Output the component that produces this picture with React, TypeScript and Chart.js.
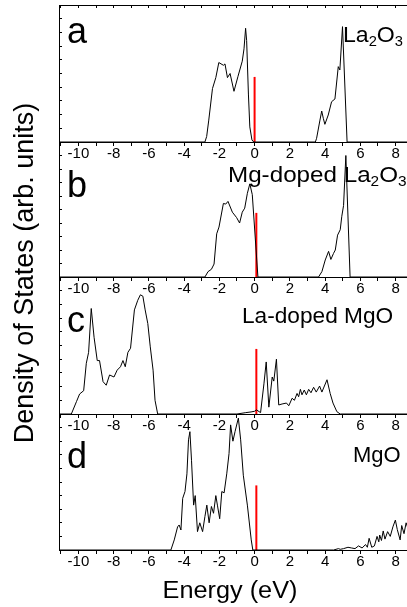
import React, { useEffect, useRef } from 'react';
import { Chart, registerables } from 'chart.js';

Chart.register(...registerables);

// ---------- data ----------
const X_MIN = -11.1;
const X_MAX = 8.65;
const Y_MAX = 10;

// a: La2O3
const energyA = [-11.1, -2.82, -2.72, -2.6, -2.39, -2.2, -2.03, -1.77, -1.68, -1.54, -1.39, -1.17, -0.94, -0.7, -0.6, -0.51, -0.45, -0.35, -0.27, -0.15, -0.05, 3.45, 3.52, 3.71, 3.81, 3.9, 3.99, 4.18, 4.37, 4.56, 4.75, 4.84, 4.99, 5.25, 8.7];
const dosA = [0, 0, 0.4, 1.6, 3.9, 4.7, 5.8, 5.6, 5.7, 4.7, 5.0, 3.7, 4.8, 5.9, 6.8, 8.3, 7.4, 3.5, 1.1, 0.15, 0, 0, 0.27, 1.6, 2.26, 1.73, 1.29, 1.97, 2.94, 3.14, 5.5, 5.26, 8.42, 0, 0];

// b: Mg-doped La2O3
const energyB = [-11.1, -2.82, -2.64, -2.45, -2.3, -2.15, -2.02, -1.77, -1.64, -1.51, -1.26, -1.02, -0.85, -0.7, -0.56, -0.41, -0.27, -0.13, 0.19, 3.63, 3.82, 4.01, 4.2, 4.33, 4.48, 4.58, 4.71, 4.86, 4.95, 5.05, 5.18, 5.42, 8.7];
const dosB = [0, 0, 0.4, 0.57, 0.96, 3.2, 3.7, 5.45, 5.4, 5.6, 4.8, 4.4, 4.0, 4.8, 5.1, 6.2, 6.9, 6.1, 0, 0, 0.4, 1.26, 1.9, 1.3, 1.75, 2.0, 3.1, 3.5, 4.5, 5.3, 9.0, 0, 0];

// c: La-doped MgO
const energyC = [-11.1, -10.4, -10.11, -9.93, -9.7, -9.55, -9.42, -9.27, -9.11, -8.93, -8.8, -8.6, -8.42, -8.23, -7.98, -7.8, -7.61, -7.47, -7.34, -7.19, -7.04, -6.82, -6.63, -6.48, -6.34, -6.21, -6.06, -5.92, -5.76, -5.65, -5.5, -1.0, -0.5, -0.2, 0.0, 0.11, 0.34, 0.53, 0.66, 0.81, 1.0, 1.09, 1.24, 1.37, 1.56, 1.81, 1.94, 2.13, 2.26, 2.41, 2.5, 2.6, 2.69, 2.82, 2.94, 3.07, 3.2, 3.35, 3.5, 3.69, 3.82, 4.11, 4.29, 4.45, 4.67, 4.86, 8.7];
const dosC = [0, 0, 0.9, 1.46, 1.7, 3.7, 4.5, 7.7, 5.6, 3.9, 3.9, 2.36, 2.1, 2.85, 2.7, 3.2, 3.45, 3.9, 3.45, 4.5, 4.8, 7.6, 8.3, 8.7, 8.6, 7.6, 6.6, 4.9, 3.2, 1.0, 0, 0, 0.1, 0.15, 0.2, 0.3, 0.1, 2.2, 3.8, 0.5, 2.7, 2.4, 4.0, 0.66, 0.73, 0.8, 0.6, 1.15, 1.0, 1.5, 1.26, 1.8, 1.4, 1.75, 1.4, 1.8, 1.55, 1.95, 1.6, 2.04, 1.6, 2.5, 1.5, 0.8, 0.17, 0, 0];

// d: MgO
const energyD = [-11.1, -4.75, -4.56, -4.37, -4.28, -4.18, -4.08, -3.95, -3.84, -3.75, -3.67, -3.58, -3.46, -3.37, -3.24, -3.11, -2.95, -2.82, -2.71, -2.58, -2.45, -2.33, -2.2, -2.11, -1.98, -1.86, -1.73, -1.58, -1.45, -1.36, -1.23, -1.11, -0.92, -0.79, -0.64, -0.41, -0.19, -0.1, 4.48, 4.76, 4.86, 5.05, 5.3, 5.5, 5.7, 5.9, 6.1, 6.3, 6.4, 6.5, 6.65, 6.8, 6.95, 7.05, 7.1, 7.2, 7.3, 7.4, 7.55, 7.7, 7.85, 7.99, 8.1, 8.26, 8.35, 8.48, 8.6, 8.7];
const dosD = [0, 0, 0.74, 1.7, 1.84, 1.47, 3.8, 4.3, 5.6, 8.1, 8.7, 6.6, 3.3, 4.0, 1.35, 2.0, 1.35, 2.45, 3.3, 2.0, 3.2, 2.7, 4.0, 3.3, 2.3, 4.3, 4.2, 5.6, 7.1, 9.2, 8.0, 8.7, 9.7, 8.1, 5.5, 3.3, 0.74, 0, 0, 0.1, 0.05, 0.1, 0.2, 0.15, 0.1, 0.3, 0.15, 0.4, 0.2, 0.86, 0.2, 0.3, 1.0, 0.6, 1.1, 0.7, 1.4, 0.8, 1.35, 1.0, 1.7, 2.2, 1.5, 0.74, 1.8, 1.2, 2.0, 1.6];

// Fermi level markers (red)
const fermiEnergy = [0.0, 0.1, 0.1, 0.1];
const fermiHeight = 4.75;

const panelLetters = ['a', 'b', 'c', 'd'];
const xAxisTitle = 'Energy (eV)';
const yAxisTitle = 'Density of States (arb. units)';

const energies = [energyA, energyB, energyC, energyD];
const densities = [dosA, dosB, dosC, dosD];

// ---------- layout / style ----------
const W = 407;
const H = 607;
const PANEL_TOP = [5, 142, 277, 414];
const PANEL_BOTTOM = [142, 277, 414, 550];
const Y_AXIS_W = 59;
const X_AXIS_H = 20;
const FONT = '"Liberation Sans", Arial, Helvetica, sans-serif';

type Run = { t: string; sub?: boolean };
const panelNames: Run[][] = [
  [{ t: 'La' }, { t: '2', sub: true }, { t: 'O' }, { t: '3', sub: true }],
  [{ t: 'Mg-doped La' }, { t: '2', sub: true }, { t: 'O' }, { t: '3', sub: true }],
  [{ t: 'La-doped MgO' }],
  [{ t: 'MgO' }],
];
const nameX = [343, 228, 242, 353];
const nameBase = [42, 182, 323, 462];
const nameScale = [1.05, 1.1, 1.03, 1.0];
const letterX = 67;
const letterBase = [43, 197, 332, 468];

function drawRuns(ctx: CanvasRenderingContext2D, runs: Run[], x: number, y: number, size: number, sx: number) {
  ctx.save();
  ctx.translate(x, y);
  ctx.scale(sx, 1);
  ctx.fillStyle = '#000';
  ctx.textBaseline = 'alphabetic';
  ctx.textAlign = 'left';
  let cx = 0;
  for (const r of runs) {
    const fs = r.sub ? Math.round(size * 0.62) : size;
    ctx.font = `${fs}px ${FONT}`;
    ctx.fillText(r.t, cx, r.sub ? size * 0.2 : 0);
    cx += ctx.measureText(r.t).width;
  }
  ctx.restore();
}

function makeLabelPlugin(i: number) {
  return {
    id: 'panelLabels' + i,
    afterDraw(chart: any) {
      const ctx = chart.ctx as CanvasRenderingContext2D;
      drawRuns(ctx, [{ t: panelLetters[i] }], letterX, letterBase[i], 36, 1);
      drawRuns(ctx, panelNames[i], nameX[i], nameBase[i], 22, nameScale[i]);
      if (i === 3) {
        ctx.save();
        ctx.font = `23px ${FONT}`;
        const w = ctx.measureText(xAxisTitle).width * 1.1;
        ctx.restore();
        drawRuns(ctx, [{ t: xAxisTitle }], 230 - w / 2, 598, 23, 1.1);
        ctx.save();
        ctx.translate(33, 273);
        ctx.rotate(-Math.PI / 2);
        ctx.font = `27px ${FONT}`;
        ctx.fillStyle = '#000';
        ctx.textAlign = 'center';
        ctx.textBaseline = 'alphabetic';
        ctx.fillText(yAxisTitle, 0, 0);
        ctx.restore();
      }
    },
  };
}

const intTicks = (s: any) => {
  s.ticks = s.ticks.filter((t: any) => Math.abs(t.value - Math.round(t.value)) < 1e-6);
};

function makeConfig(i: number): any {
  const top = PANEL_TOP[i];
  const bottom = PANEL_BOTTOM[i];
  const scales: any = {
    x: {
      type: 'linear',
      position: 'bottom',
      min: X_MIN,
      max: X_MAX,
      afterBuildTicks: intTicks,
      afterFit: (s: any) => { s.height = X_AXIS_H; },
      ticks: {
        stepSize: 1,
        includeBounds: false,
        autoSkip: false,
        maxRotation: 0,
        minRotation: 0,
        padding: -1,
        color: '#000',
        font: { family: FONT, size: 15 },
        callback: (v: number) => (Math.round(v) % 2 === 0 ? String(Math.round(v)) : ''),
      },
      grid: { drawOnChartArea: false, drawTicks: true, tickLength: 4, color: '#000', lineWidth: 1 },
      border: { display: true, color: '#000', width: 1 },
    },
    y: {
      type: 'linear',
      min: 0,
      max: Y_MAX,
      afterFit: (s: any) => { s.width = Y_AXIS_W; },
      ticks: { display: false, stepSize: 1 },
      grid: { drawOnChartArea: false, drawTicks: true, tickLength: -3, color: '#000', lineWidth: 1 },
      border: { display: true, color: '#000', width: 1 },
    },
  };
  if (i === 0) {
    scales.xTop = {
      type: 'linear',
      position: 'top',
      min: X_MIN,
      max: X_MAX,
      afterBuildTicks: intTicks,
      afterFit: (s: any) => { s.height = 0; },
      ticks: { display: false, stepSize: 1, includeBounds: false },
      grid: { drawOnChartArea: false, drawTicks: true, tickLength: -3, color: '#000', lineWidth: 1 },
      border: { display: true, color: '#000', width: 1 },
    };
  }
  return {
    type: 'line',
    data: {
      datasets: [
        {
          data: energies[i].map((x, k) => ({ x, y: densities[i][k] })),
          borderColor: '#000',
          borderWidth: 1,
          pointRadius: 0,
          tension: 0,
          fill: false,
        },
        {
          data: [{ x: fermiEnergy[i], y: 0 }, { x: fermiEnergy[i], y: fermiHeight }],
          borderColor: '#ff0000',
          borderWidth: 2,
          pointRadius: 0,
          tension: 0,
          fill: false,
        },
      ],
    },
    options: {
      responsive: false,
      maintainAspectRatio: false,
      animation: false,
      devicePixelRatio: 1,
      events: [],
      layout: { padding: { top, bottom: H - bottom - X_AXIS_H, left: 0, right: 0 } },
      plugins: { legend: { display: false }, tooltip: { enabled: false }, title: { display: false } },
      scales,
    },
    plugins: [makeLabelPlugin(i)],
  };
}

function Panel({ index }: { index: number }) {
  const ref = useRef<HTMLCanvasElement | null>(null);
  useEffect(() => {
    if (!ref.current) return;
    const chart = new Chart(ref.current, makeConfig(index));
    return () => chart.destroy();
  }, [index]);
  return (
    <canvas
      ref={ref}
      width={W}
      height={H}
      style={{ position: 'absolute', left: 0, top: 0, width: W, height: H }}
    />
  );
}

export default function App() {
  return (
    <div style={{ position: 'absolute', left: 0, top: 0, width: W, height: H, background: '#fff', overflow: 'hidden' }}>
      {[0, 1, 2, 3].map((i) => (
        <Panel key={i} index={i} />
      ))}
    </div>
  );
}
